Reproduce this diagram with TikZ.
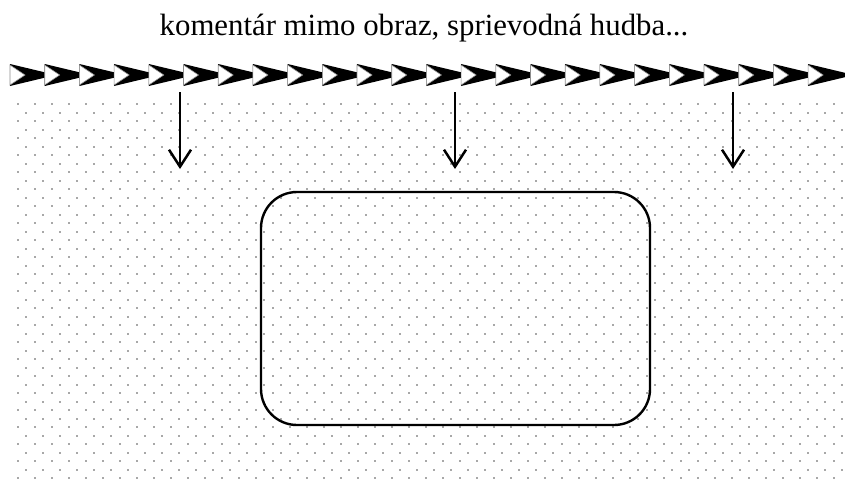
\documentclass[tikz,border=0pt]{standalone}
\usepackage{fontspec}
\setmainfont{Liberation Serif}
\usepackage{tikz}
\usetikzlibrary{arrows.meta}
\tikzstyle{screen}=[draw=black,line width=2.4pt,rounded corners=36pt,minimum width=389pt,minimum height=233pt,inner sep=0pt]
\tikzstyle{dot}=[fill=black!34]
\tikzstyle{dn}=[line width=2.5pt,-{Straight Barb[length=17pt,width=22pt,line width=2.5pt]}]
\tikzstyle{notch}=[fill=white,draw=black!45,line width=0.6pt]

\begin{document}
\begin{tikzpicture}[x=1pt,y=-1pt]
  \useasboundingbox (0,0) rectangle (845,488);
  % dotted background
  \foreach \r in {0,...,44} {
    \foreach \c in {0,...,48} {
      \pgfmathsetmacro{\dx}{17.5+17*\c+8.5*mod(\r,2)}
      \pgfmathsetmacro{\dy}{104+8.5*\r}
      \fill[dot] (\dx-1,\dy-1) rectangle (\dx+1,\dy+1);
    }
  }
  \node (title) at (424,28) {\fontsize{30.8}{37}\selectfont komentár mimo obraz, sprievodná hudba...};
  % sound track
  \foreach \i in {0,...,23} {
    \pgfmathsetmacro{\sx}{10+34.7*\i}
    \fill[black] (\sx,64) -- (\sx+46,75) -- (\sx,86) -- cycle;
    \draw[notch] (\sx,65) -- (\sx+15,75) -- (\sx,85) -- cycle;
  }
  \coordinate (tA) at (180,92);
  \coordinate (bA) at (180,169);
  \coordinate (tB) at (455,92);
  \coordinate (bB) at (455,169);
  \coordinate (tC) at (733,92);
  \coordinate (bC) at (733,169);
  \draw[dn] (tA) -- (bA);
  \draw[dn] (tB) -- (bB);
  \draw[dn] (tC) -- (bC);
  \node[screen] (frame) at (455.5,308.5) {};
\end{tikzpicture}
\end{document}
